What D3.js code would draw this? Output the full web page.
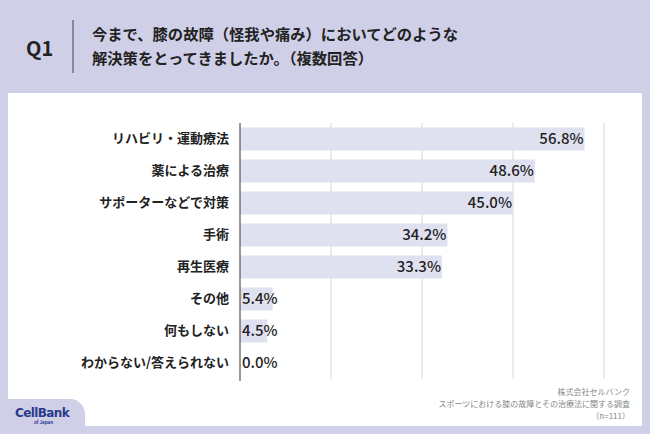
<!DOCTYPE html>
<html><head><meta charset="utf-8">
<script src="https://cdn.jsdelivr.net/npm/d3@7"></script>
<style>html,body{margin:0;padding:0;background:#cfcfe8;}svg{display:block;}</style>
</head><body>
<svg id="chart" width="650" height="434"></svg>
<script>
const categories = ["リハビリ・運動療法","薬による治療","サポーターなどで対策","手術","再生医療","その他","何もしない","わからない/答えられない"];
const values = [56.8, 48.6, 45.0, 34.2, 33.3, 5.4, 4.5, 0.0];
const tickValues = [0, 15, 30, 45, 60];
const titleLines = ["今まで、膝の故障（怪我や痛み）においてどのような","解決策をとってきましたか。（複数回答）"];
const sourceLines = ["株式会社セルバンク","スポーツにおける膝の故障とその治療法に関する調査","（n=111）"];

const font = "'Noto Sans CJK JP','Noto Sans',sans-serif";
const svg = d3.select("#chart");
svg.append("rect").attr("width",650).attr("height",434).attr("fill","#cfcfe8");
// white panel
svg.append("rect").attr("x",8).attr("y",93).attr("width",634).attr("height",333).attr("fill","#ffffff");
// bottom-left tab
svg.append("path").attr("d","M0,399 H70 A15,15 0 0 1 85,414 V434 H0 Z").attr("fill","#cfcfe8");

// Header
svg.append("text").attr("x",26).attr("y",56).text("Q1")
  .attr("font-family",font).attr("font-weight",700).attr("font-size",20).attr("fill","#222");
svg.append("line").attr("x1",73).attr("x2",73).attr("y1",20).attr("y2",73).attr("stroke","#444").attr("stroke-width",1);
svg.append("g").selectAll("text").data(titleLines).join("text")
  .attr("x",92).attr("y",(d,i)=>40+i*24).text(d=>d)
  .attr("font-family",font).attr("font-weight",700).attr("font-size",15.3).attr("fill","#222");

// chart
const x = d3.scaleLinear().domain([0,60]).range([240,604]);
const y = d3.scaleBand().domain(categories).range([123,379]).paddingInner(0.28).paddingOuter(0.14);

const g = svg.append("g");
g.append("g").selectAll("line").data(tickValues.slice(1)).join("line")
  .attr("x1",d=>x(d)).attr("x2",d=>x(d)).attr("y1",123).attr("y2",379)
  .attr("stroke","#d8d8d8").attr("stroke-width",1);

g.append("g").selectAll("rect").data(values).join("rect")
  .attr("x",x(0)).attr("y",(d,i)=>y(categories[i]))
  .attr("width",d=>x(d)-x(0)).attr("height",y.bandwidth())
  .attr("fill","#e0e1f0");

g.append("line").attr("x1",x(0)).attr("x2",x(0)).attr("y1",123).attr("y2",381)
  .attr("stroke","#555").attr("stroke-width",1.2);

const yAxis = d3.axisLeft(y).tickSize(0).tickPadding(11);
const ya = g.append("g").attr("transform",`translate(${x(0)},0)`).call(yAxis);
ya.select(".domain").remove();
ya.selectAll("text").attr("font-family",font).attr("font-weight",700).attr("font-size",13).attr("fill","#222");

g.append("g").selectAll("text").data(values).join("text")
  .attr("x",d=> d>20 ? x(d)-1 : x(0)+2)
  .attr("text-anchor",d=> d>20 ? "end":"start")
  .attr("y",(d,i)=>y(categories[i])+y.bandwidth()/2)
  .attr("dy","0.36em")
  .text(d=>d.toFixed(1)+"%")
  .attr("font-family",font).attr("font-weight",500).attr("font-size",15).attr("fill","#222");

// source
svg.append("g").selectAll("text").data(sourceLines).join("text")
  .attr("x",630).attr("y",(d,i)=>395+i*12).attr("text-anchor","end").text(d=>d)
  .attr("font-family",font).attr("font-size",8).attr("fill","#888");

// logo
svg.append("text").attr("x",15).attr("y",417).text("CellBank")
  .attr("font-family","'DejaVu Sans',sans-serif").attr("font-weight",700).attr("font-size",12).attr("fill","#2b3a8c").attr("letter-spacing",-0.6);
svg.append("text").attr("x",34).attr("y",424).text("of Japan")
  .attr("font-family",font).attr("font-weight",700).attr("font-size",4.5).attr("fill","#2b3a8c");
</script>
</body></html>
